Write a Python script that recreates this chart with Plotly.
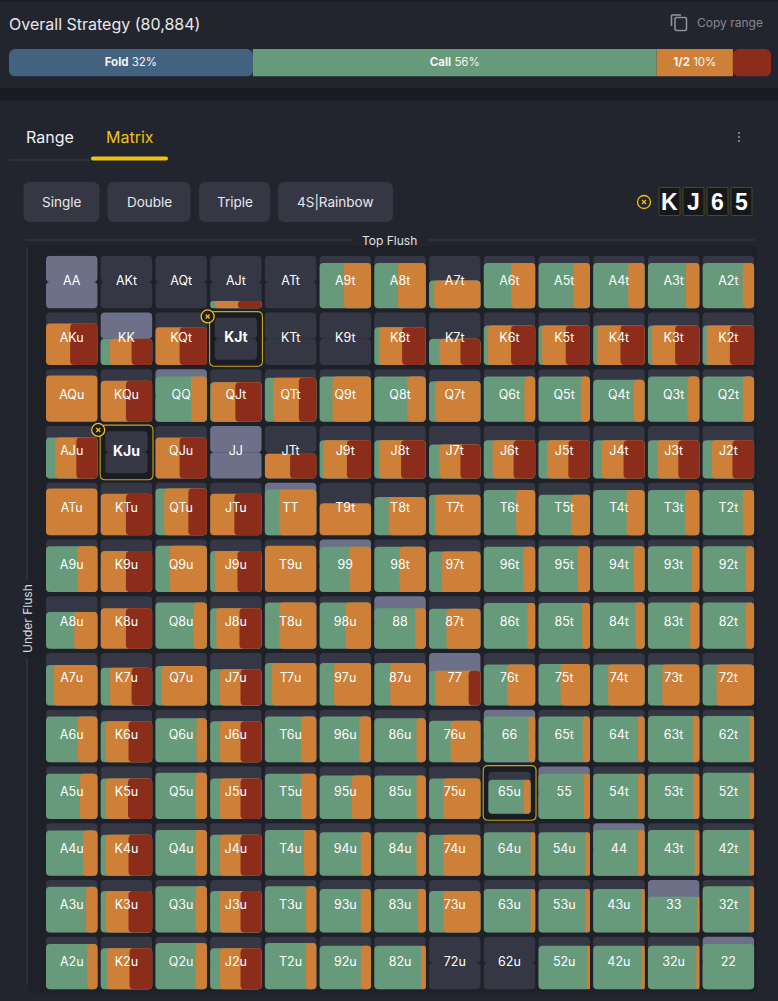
import plotly.graph_objects as go

W, H = 778, 1001
RANKS = list("AKQJT98765432")
RANGE = [
 [0,0,0,14,0,86,86,53,86,86,86,86,86],
 [79,50,72,0,0,0,72,50,75,75,75,75,75],
 [88,78,86,75,84,86,86,77,86,86,80,86,86],
 [78,0,78,0,47,73,73,65,73,73,73,73,73],
 [89,79,89,79,87,61,73,77,86,77,86,86,86],
 [87,78,88,78,88,86,86,77,86,87,87,87,87],
 [70,77,88,77,88,88,77,76,87,87,88,88,88],
 [77,72,75,69,81,81,81,66,78,79,78,78,78],
 [87,78,84,78,87,87,84,79,87,87,87,88,88],
 [86,77,88,77,86,83,83,77,81,86,86,86,88],
 [86,78,87,78,87,83,83,78,83,83,87,87,87],
 [87,79,88,79,88,83,83,79,83,83,83,68,88],
 [86,78,88,78,88,83,83,0,0,83,83,83,86],
]
CALL = [
 [0,0,0,9,0,47,46,10,53,68,68,74,78],
 [0,18,0,0,0,0,9,20,8,7,8,8,8],
 [0,0,69,3,16,25,64,12,79,82,79,77,78],
 [18,0,0,0,0,7,9,20,17,17,17,18,18],
 [0,0,17,0,28,0,28,12,63,63,65,72,78],
 [61,0,28,9,0,58,49,25,77,76,79,85,84],
 [55,0,74,12,28,50,79,34,85,85,82,82,84],
 [15,18,12,19,14,28,31,12,45,43,29,28,27],
 [62,10,80,19,70,77,82,42,87,86,87,87,91],
 [66,10,78,19,70,63,82,28,84,88,87,88,91],
 [72,10,78,19,76,80,82,28,91,91,87,91,91],
 [78,10,78,19,80,80,85,28,91,91,94,95,91],
 [80,12,78,19,80,80,91,0,0,94,94,94,100],
]
HALF = [
 [0,0,0,45,0,53,54,90,47,32,32,26,22],
 [47,42,47,0,0,0,45,41,45,46,45,45,45],
 [100,49,31,46,50,75,36,88,21,18,21,23,22],
 [41,0,47,0,49,46,43,41,41,41,42,41,40],
 [100,49,47,47,72,100,72,88,37,37,35,28,22],
 [39,49,72,44,100,42,51,75,23,24,21,15,16],
 [45,49,26,45,72,50,21,66,15,15,18,18,16],
 [85,42,88,40,86,72,69,65,55,57,71,72,73],
 [38,44,20,40,30,23,18,58,13,14,13,13,9],
 [34,43,22,40,30,37,18,72,16,12,13,12,9],
 [28,44,22,40,24,20,18,72,9,9,13,9,9],
 [22,44,22,40,20,20,15,72,9,9,6,5,9],
 [20,44,22,40,20,20,9,0,0,6,6,6,0],
]
RAISE = [
 [0,0,0,46,0,0,0,0,0,0,0,0,0],
 [53,40,53,0,0,0,46,39,47,47,47,47,47],
 [0,51,0,51,34,0,0,0,0,0,0,0,0],
 [41,0,53,0,51,47,48,39,42,42,41,41,42],
 [0,51,36,53,0,0,0,0,0,0,0,0,0],
 [0,51,0,47,0,0,0,0,0,0,0,0,0],
 [0,51,0,43,0,0,0,0,0,0,0,0,0],
 [0,40,0,41,0,0,0,23,0,0,0,0,0],
 [0,46,0,41,0,0,0,0,0,0,0,0,0],
 [0,47,0,41,0,0,0,0,0,0,0,0,0],
 [0,46,0,41,0,0,0,0,0,0,0,0,0],
 [0,46,0,41,0,0,0,0,0,0,0,0,0],
 [0,44,0,41,0,0,0,0,0,0,0,0,0],
]
SELECTED = [(1,3),(3,1),(9,8)]
CLOSABLE = [(1,3),(3,1)]
OVERALL_NAMES = ["Fold","Call","1/2",""]
OVERALL_WIDTHS = [32.0,53.0,10.0,5.0]
OVERALL_LABELS = ["32%","56%","10%",""]
BUTTONS = ["Single","Double","Triple","4S|Rainbow"]
BUTTON_X = [(23.5,99.5),(107.5,190.5),(199,270),(278,393)]
CARDS = ["K","J","6","5"]
CARD_X = [(659,680),(683,704),(707,728),(731,752)]

BG="#23252e"; BAND="#1a1b20"; BOX="#1f2129"; EMPTY="#353744"; PAIR="#6c7089"
GREEN="#669a7b"; ORANGE="#ce8038"; RED="#8c2d1c"; BLUE="#43627f"; GOLD="#f0c20f"
FONT="Inter"

PX0, PITCHX, PY0, PITCHY = 46.0, 54.72, 255.7, 56.75
CW, CH = 0.94, 0.928
INX, INY = 4.6/PITCHX, 5.3/PITCHY

def xp(x): return x/W
def yp(y): return 1-y/H
def rr(x0,y0,x1,y1,rx,ry=None):
    ry = rx if ry is None else ry
    return (f"M{x0+rx},{y0} L{x1-rx},{y0} Q{x1},{y0} {x1},{y0+ry} L{x1},{y1-ry} Q{x1},{y1} {x1-rx},{y1} "
            f"L{x0+rx},{y1} Q{x0},{y1} {x0},{y1-ry} L{x0},{y0+ry} Q{x0},{y0} {x0+rx},{y0} Z")
def rrp(x0,y0,x1,y1,r):
    return rr(xp(x0),yp(y0),xp(x1),yp(y1),r/W,-r/H)

shapes=[]; annos=[]
def box(x0,y0,x1,y1,fill,r=0,line=None,lw=0,layer="below"):
    shapes.append(dict(type="path",xref="paper",yref="paper",path=rrp(x0,y0,x1,y1,r) if r else
        f"M{xp(x0)},{yp(y0)} L{xp(x1)},{yp(y0)} L{xp(x1)},{yp(y1)} L{xp(x0)},{yp(y1)} Z",
        fillcolor=fill,line=dict(color=line or "rgba(0,0,0,0)",width=lw),layer=layer))
def seg(x0,y0,x1,y1,c,w=1,layer="below"):
    shapes.append(dict(type="line",xref="paper",yref="paper",x0=xp(x0),x1=xp(x1),y0=yp(y0),y1=yp(y1),
        line=dict(color=c,width=w),layer=layer))
def text(x,y,s,size,color,anchor="center",angle=0,family=FONT):
    annos.append(dict(xref="paper",yref="paper",x=xp(x),y=yp(y),text=s,showarrow=False,xanchor=anchor,yanchor="middle",
        font=dict(family=family,size=size,color=color),textangle=angle,align="center",borderpad=0,borderwidth=0))

# page chrome
box(0,0,W,1.5,BAND)
box(0,88,W,100.5,BAND)
box(27,246,757,993,BOX)
text(9,24,"Overall Strategy (80,884)",16,"#e8e8ea","left")
box(675,17.5,686.5,30.5,"rgba(0,0,0,0)",1.5,"#8f9096",1.6)
seg(671.5,26,671.5,15,"#8f9096",1.6); seg(671.5,15,681,15,"#8f9096",1.6)
text(697,22,"Copy range",12,"#85868d","left")
text(50,137,"Range",16,"#f0f0f2")
text(130,137,"Matrix",16,GOLD)
seg(9,160,91,160,"#34363f",1.5)
box(91,156.5,168,160.5,GOLD,2)
for dy in (133,137,141):
    shapes.append(dict(type="circle",xref="paper",yref="paper",x0=xp(738),x1=xp(740),y0=yp(dy-1),y1=yp(dy+1),
        fillcolor="#9a9ba2",line=dict(width=0)))
for b,(x0,x1) in zip(BUTTONS,BUTTON_X):
    box(x0,182,x1,222,EMPTY,7)
    text((x0+x1)/2,202,b,13.5,"#e8e8ea")
def xcircle(cx,cy,r=6.5,fill="rgba(0,0,0,0)"):
    shapes.append(dict(type="circle",xref="paper",yref="paper",x0=xp(cx-r),x1=xp(cx+r),y0=yp(cy-r),y1=yp(cy+r),
        fillcolor=fill,line=dict(color=GOLD,width=1.3),layer="above"))
    seg(cx-2,cy-2,cx+2,cy+2,GOLD,1.3,"above"); seg(cx-2,cy+2,cx+2,cy-2,GOLD,1.3,"above")
xcircle(644,202)
for c,(x0,x1) in zip(CARDS,CARD_X):
    box(x0,187.5,x1,215.5,"#16171b",1,"#4d4920",1)
    text((x0+x1)/2,202,f"<b>{c}</b>",23,"#ffffff",family="Liberation Sans")
seg(25,240,352,240,"#2d2f39",2); seg(428,240,755,240,"#2d2f39",2)
text(390,241,"Top Flush",12,"#e0e0e4")
seg(27,248,27,581,"#2d2f39",2); seg(27,658,27,985,"#2d2f39",2)
text(27,619,"Under Flush",12,"#d8d8dc",angle=-90)

# matrix cells
def geom(r,c):
    if (r,c) in SELECTED:
        return c+INX, r+INY, CW-2*INX, CH-2*INY
    return c, r, CW, CH

bgx=[];bgy=[];bgw=[];bgh=[];bgc=[]
for r in range(13):
    for c in range(13):
        x,y,w,h=geom(r,c)
        bgx.append(x+w/2); bgy.append(y+h/2); bgw.append(w); bgh.append(h/2)
        bgc.append(PAIR if r==c else EMPTY)
fig=go.Figure()
RAD=4
fig.add_bar(x=bgx,y=[-v for v in bgh],base=bgy,width=bgw,marker=dict(color=bgc,cornerradius=RAD,line_width=0),hoverinfo="skip")
fig.add_bar(x=bgx,y=bgh,base=bgy,width=bgw,marker=dict(color=bgc,cornerradius=RAD,line_width=0),hoverinfo="skip")

def layer(start_fn,values,color):
    xs=[];ys=[];bs=[];ws=[]
    for r in range(13):
        for c in range(13):
            if values[r][c]<=0 or RANGE[r][c]<=0: continue
            x,y,w,h=geom(r,c)
            s=start_fn(r,c)/100*w
            hh=RANGE[r][c]/100*h
            xs.append(x+s+(w-s)/2); ws.append(w-s); bs.append(y+h-hh); ys.append(hh)
    fig.add_bar(x=xs,y=ys,base=bs,width=ws,marker=dict(color=color,cornerradius=RAD,line_width=0),hoverinfo="skip")
layer(lambda r,c:0,CALL,GREEN)
layer(lambda r,c:CALL[r][c],HALF,ORANGE)
layer(lambda r,c:CALL[r][c]+HALF[r][c],RAISE,RED)

lx=[];ly=[];lt=[]
for r in range(13):
    for c in range(13):
        if r==c: s=RANKS[r]*2
        elif c>r: s=RANKS[r]+RANKS[c]+"t"
        else: s=RANKS[c]+RANKS[r]+"u"
        if (r,c) in CLOSABLE: s=f"<b>{s}</b>"
        lx.append(c+CW/2); ly.append(r+CH/2); lt.append(s)
fig.add_scatter(x=lx,y=ly,text=lt,mode="text",textposition="middle center",hoverinfo="skip",
    textfont=dict(family=FONT,size=[14 if t.startswith("<b>") else 12.5 for t in lt],color="#ffffff"))

for r,c in SELECTED:
    shapes.append(dict(type="path",xref="x",yref="y",layer="below",
        path=rr(c-0.01,r-0.015,c+CW+0.015,r+CH+0.02,5/PITCHX,5/PITCHY),
        fillcolor="#1b1c22",line=dict(color="#c9a416",width=1.1)))
for r,c in CLOSABLE:
    xcircle(PX0+c*PITCHX-2.5, PY0+r*PITCHY+4, 6.5, "#1b1c22")

# overall strategy bar
cum=0; ox=[]
for v in OVERALL_WIDTHS:
    ox.append(cum); cum+=v
OC=[BLUE,GREEN,ORANGE,RED]
fig.add_bar(x=[-OVERALL_WIDTHS[0]],base=[ox[0]+OVERALL_WIDTHS[0]],y=[0],width=[1],orientation="h",xaxis="x2",yaxis="y2",
    marker=dict(color=OC[0],cornerradius=6,line_width=0),hoverinfo="skip")
for i in (1,2):
    fig.add_bar(x=[OVERALL_WIDTHS[i]],base=[ox[i]],y=[0],width=[1],orientation="h",xaxis="x2",yaxis="y2",
        marker=dict(color=OC[i],line_width=0),hoverinfo="skip")
fig.add_bar(x=[OVERALL_WIDTHS[3]],base=[ox[3]],y=[0],width=[1],orientation="h",xaxis="x2",yaxis="y2",
    marker=dict(color=OC[3],cornerradius=6,line_width=0),hoverinfo="skip")
for i in range(3):
    cx=ox[i]+OVERALL_WIDTHS[i]/2
    fig.add_scatter(x=[cx],y=[0],xaxis="x2",yaxis="y2",mode="text",hoverinfo="skip",
        text=[f"<b>{OVERALL_NAMES[i]}</b> {OVERALL_LABELS[i]}"],textposition="middle center",
        textfont=dict(family=FONT,size=11.5,color="#f4f4f4"))

hide=dict(visible=False,fixedrange=True,showgrid=False,zeroline=False)
fig.update_layout(
    width=W,height=H,margin=dict(l=0,r=0,t=0,b=0),autosize=False,showlegend=False,barmode="overlay",
    paper_bgcolor=BG,plot_bgcolor="rgba(0,0,0,0)",
    xaxis=dict(hide,domain=[xp(PX0),xp(PX0+13*PITCHX)],range=[0,13],type="linear"),
    yaxis=dict(hide,domain=[yp(PY0+13*PITCHY),yp(PY0)],range=[13,0],type="linear"),
    xaxis2=dict(hide,domain=[xp(9),xp(771)],range=[0,100],type="linear",anchor="y2"),
    yaxis2=dict(hide,domain=[yp(76.5),yp(49)],range=[-0.5,0.5],type="linear",anchor="x2"),
    shapes=shapes,annotations=annos,
)
fig.write_html("out.html",config=dict(displayModeBar=False,staticPlot=True),
    post_script="document.body.style.margin='0';document.body.style.overflow='hidden';document.body.style.background='#23252e';")
